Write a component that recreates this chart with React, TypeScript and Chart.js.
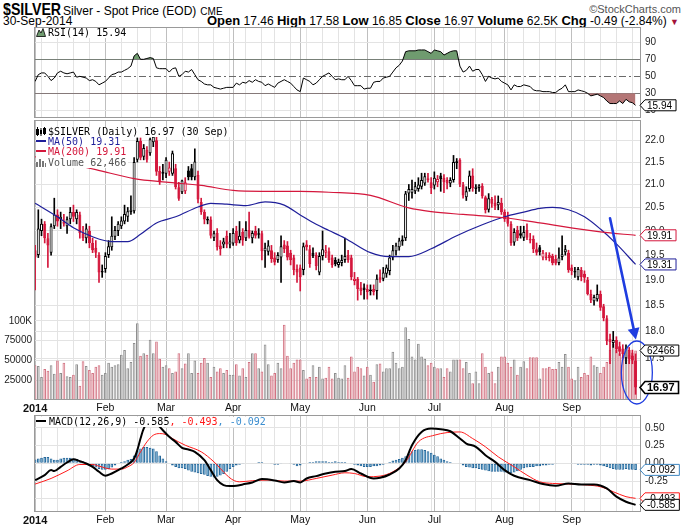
import React, { useEffect, useRef } from 'react';
import { Chart, registerables } from 'chart.js';
Chart.register(...registerables);

const SANS = '"Liberation Sans", Arial, Helvetica, sans-serif';
const NARROW = '"Liberation Sans Narrow", "Arial Narrow", "Liberation Sans", sans-serif';
const MONO = '"DejaVu Sans Mono", "Liberation Mono", monospace';

// ---------------- categories ----------------
const HOLIDAYS = ['2014-02-17', '2014-04-18', '2014-05-26', '2014-07-04', '2014-09-01'];
const MONTH_NAMES = ['Jan', 'Feb', 'Mar', 'Apr', 'May', 'Jun', 'Jul', 'Aug', 'Sep'];

// ---------------- daily OHLC (Jan 2 .. Sep 30, 2014) ----------------
const OPEN = [
  19.60,19.50,20.00,20.15,19.85,19.55,20.10,20.35,20.25,20.20,20.10,20.25,20.40,20.25,20.35,19.95,19.85,20.00,19.75,19.65,19.50,19.15,
  19.22,19.50,19.66,19.88,20.00,20.10,20.20,20.30,20.40,20.42,21.55,21.98,21.62,21.78,21.70,21.95,22.00,21.30,21.24,
  21.24,21.28,21.24,21.36,20.94,20.83,20.85,21.31,21.36,21.16,21.21,20.62,20.40,20.22,20.24,19.86,19.96,19.70,19.72,19.90,19.72,
  19.74,20.00,19.80,19.98,19.85,20.02,19.85,20.00,19.92,19.95,19.58,19.57,19.60,19.45,19.40,19.45,19.72,19.70,19.55,19.45,19.22,
  19.25,19.20,19.72,19.62,19.55,19.50,19.15,19.48,19.55,19.58,19.45,19.40,19.30,19.34,19.40,19.50,19.45,18.98,19.02,18.85,18.85,
  18.82,18.78,18.82,18.78,19.05,19.02,19.12,19.18,19.45,19.58,19.66,19.78,19.85,20.80,20.82,20.85,20.90,20.95,21.02,21.10,21.05,
  20.98,21.05,21.20,21.15,21.10,21.02,21.10,21.48,21.55,21.00,20.72,20.90,21.20,20.90,20.92,20.97,20.72,20.45,20.68,20.60,20.55,20.60,
  20.40,20.30,20.15,19.76,20.02,19.95,19.86,20.02,19.80,19.84,19.62,19.66,19.45,19.44,19.50,19.48,19.42,19.34,19.46,19.56,19.55,
  19.25,19.15,19.05,19.20,19.12,19.00,18.72,18.58,18.62,18.72,18.48,18.25,17.86,17.78,17.84,17.72,17.68,17.50,17.65,17.55,17.46,
];
const HIGH = [
  19.70,20.45,20.25,20.20,19.95,20.15,20.70,20.45,20.40,20.35,20.30,20.50,20.55,20.45,20.40,20.10,20.15,20.10,19.85,19.80,19.55,19.30,
  19.55,19.80,20.30,20.10,20.20,20.30,20.55,20.50,20.75,21.60,22.05,22.05,21.90,21.85,22.05,22.15,22.10,21.40,21.45,
  21.60,21.50,21.75,21.45,21.05,21.10,21.15,21.40,21.45,21.80,21.30,20.70,20.45,20.30,20.30,20.00,20.05,19.80,19.85,20.00,19.95,
  20.05,20.10,20.20,20.05,20.20,20.40,20.00,20.10,20.05,20.00,19.75,19.80,19.70,19.55,19.55,19.90,19.80,19.78,19.60,19.50,19.30,
  19.30,19.75,19.80,19.70,19.65,19.55,19.55,20.00,19.70,19.65,19.50,19.45,19.42,19.50,19.85,19.60,19.50,19.15,19.05,18.95,18.92,
  18.90,18.90,18.90,19.10,19.20,19.25,19.30,19.50,19.70,19.75,19.85,19.90,20.85,21.00,21.10,21.05,21.15,21.25,21.25,21.25,21.15,
  21.28,21.20,21.25,21.22,21.15,21.15,21.65,21.58,21.58,21.05,20.95,21.30,21.35,21.00,21.00,21.02,20.75,20.80,20.72,20.75,20.75,20.70,
  20.45,20.40,20.20,20.05,20.10,20.10,20.10,20.15,19.95,19.90,19.75,19.70,19.60,19.55,19.55,19.52,19.50,19.65,19.90,19.70,19.60,
  19.30,19.25,19.25,19.25,19.18,19.05,18.80,18.70,18.90,18.78,18.52,18.30,17.95,18.00,17.90,17.80,17.75,17.75,17.70,17.65,17.58,
];
const LOW = [
  18.80,19.45,19.90,19.75,19.25,19.50,20.05,20.10,20.05,20.10,19.95,20.15,20.20,20.15,19.85,19.80,19.75,19.65,19.55,19.45,18.95,19.05,
  19.15,19.45,19.60,19.82,19.90,20.05,20.15,20.20,20.35,20.38,21.50,21.55,21.55,21.50,21.65,21.85,21.20,21.00,21.10,
  21.15,21.20,21.20,20.90,20.65,20.80,20.80,21.10,21.10,21.10,20.60,20.35,20.15,20.15,19.85,19.80,19.60,19.50,19.65,19.65,19.65,
  19.70,19.70,19.75,19.70,19.80,19.85,19.75,19.85,19.85,19.40,19.25,19.50,19.35,19.30,19.35,18.95,19.55,19.40,19.30,19.10,18.95,
  18.78,19.10,19.60,19.25,19.45,19.20,19.10,19.40,19.45,19.35,19.25,19.28,19.25,19.28,19.35,19.35,19.00,18.90,18.60,18.70,18.62,
  18.62,18.70,18.70,18.62,18.95,18.98,19.05,19.10,19.40,19.50,19.60,19.70,19.80,20.65,20.70,20.80,20.85,20.90,20.98,21.05,20.80,
  20.90,20.95,20.85,20.82,20.90,20.95,21.05,21.35,20.95,20.70,20.65,20.85,20.85,20.80,20.85,20.70,20.38,20.40,20.50,20.45,20.45,20.35,
  20.20,20.10,19.70,19.70,19.80,19.85,19.80,19.82,19.75,19.55,19.50,19.50,19.40,19.40,19.38,19.30,19.30,19.30,19.40,19.50,19.15,
  19.10,19.05,19.00,18.98,18.95,18.70,18.55,18.50,18.58,18.40,18.20,17.75,17.40,17.70,17.60,17.55,17.50,17.40,17.40,17.40,16.85,
];
const CLOSE = [
  19.45,20.05,20.15,19.85,19.70,20.10,20.35,20.20,20.30,20.15,20.25,20.40,20.30,20.40,19.95,19.85,20.05,19.75,19.60,19.55,19.15,19.15,
  19.48,19.68,19.90,20.02,20.15,20.22,20.36,20.42,20.45,21.50,21.98,21.60,21.82,21.55,22.02,22.08,21.28,21.05,21.28,
  21.55,21.38,21.70,20.94,20.69,21.09,21.05,21.16,21.16,21.51,20.67,20.40,20.24,20.25,19.90,19.95,19.66,19.62,19.78,19.72,19.78,
  19.96,19.75,19.90,19.80,20.02,19.88,19.96,19.90,19.95,19.58,19.65,19.70,19.42,19.35,19.50,19.68,19.62,19.45,19.40,19.20,19.15,
  19.05,19.68,19.66,19.32,19.48,19.28,19.48,19.62,19.60,19.40,19.30,19.32,19.36,19.40,19.48,19.40,19.05,19.02,18.82,18.78,18.80,
  18.76,18.80,18.76,19.02,19.00,19.15,19.25,19.45,19.60,19.70,19.80,19.82,20.80,20.90,20.90,20.96,21.00,21.10,21.18,21.14,20.92,
  21.15,21.12,21.12,21.05,21.02,21.10,21.50,21.52,21.00,20.76,20.85,21.20,20.92,20.95,20.98,20.74,20.44,20.70,20.58,20.52,20.62,20.40,
  20.25,20.15,19.75,19.98,19.85,19.90,19.98,19.86,19.84,19.62,19.55,19.56,19.55,19.47,19.44,19.34,19.33,19.45,19.52,19.62,19.20,
  19.18,19.18,19.22,19.05,19.04,18.72,18.60,18.66,18.72,18.45,18.25,17.82,17.80,17.84,17.66,17.62,17.58,17.68,17.48,17.46,16.97,
];
// volume, thousands of contracts
const VOLUME_K = [
  44,43,29,39,37,44,33,50,34,47,30,29,32,45,18,49,43,38,34,42,44,32,
  34,47,42,44,45,57,63,40,48,72,97,56,59,57,76,59,74,52,42,
  44,40,34,36,59,40,46,59,34,50,34,47,53,47,29,42,36,40,34,38,32,
  32,45,31,40,29,48,59,59,40,36,70,45,31,34,47,40,95,56,40,47,51,
  51,38,27,29,44,29,42,27,28,42,27,34,28,27,44,28,55,36,42,40,31,
  42,32,23,45,46,36,40,40,61,47,40,42,92,77,55,51,71,55,52,44,47,
  42,40,40,29,40,36,51,51,51,40,48,34,21,36,21,59,42,34,36,21,42,55,
  55,47,42,51,32,42,49,40,54,54,54,27,40,40,42,39,39,48,42,58,42,
  27,25,42,29,34,32,55,44,42,34,42,48,63,71,63,59,55,63,57,60,62.466,
];
// moving averages, read at sample days (day index, value)
const MA50_DAY = [0,7,12,18,24,29,33,38,44,51,55,60,66,72,78,83,88,92,97,105,111,117,124,132,140,147,153,158,162,167,172,177,182,188];
const MA50 = [20.59,20.30,20.07,19.88,19.78,19.78,19.93,20.17,20.30,20.51,20.59,20.57,20.54,20.62,20.55,20.34,20.14,20.01,19.85,19.55,19.47,19.47,19.63,19.90,20.13,20.30,20.40,20.48,20.50,20.45,20.30,20.04,19.73,19.31];
const MA200_DAY = [0,19,31,41,52,62,71,83,92,105,117,124,134,147,158,177,188];
const MA200 = [21.62,21.33,21.13,21.05,20.98,20.87,20.85,20.85,20.83,20.76,20.49,20.41,20.35,20.28,20.17,19.98,19.91];
// RSI(14) daily
const RSI = [
  44,52,54,54,50,45,48,54,56,54,53,54,55,49,50,49,48,45,46,44,40,42,
  44,48,52,53,55,55,57,59,62,74,77,70,70,71,72,71,60,59,59,
  59,55,59,60,50,52,56,55,58,52,46,44,41,40,40,37,36,35,36,37,37,
  37,42,40,43,42,45,43,46,44,43,39,41,39,37,42,44,46,44,42,38,34,
  32,48,46,44,40,42,46,50,52,54,50,46,47,46,46,50,45,39,39,39,35,
  36,36,43,44,44,48,49,50,55,60,63,68,79,80,80,80,81,81,81,79,77,
  81,80,79,75,77,79,80,80,62,55,57,62,56,58,58,52,44,50,48,47,48,44,
  42,40,34,40,38,38,40,39,38,34,33,33,32,32,32,31,31,34,36,40,32,
  32,32,34,33,32,30,27,28,29,27,25,21,18,18,18,21,18,23,20,19,15.94,
];
// MACD(12,26,9) line and signal, read at sample days
const MACD_DAY = [0,3,5,6,8,10,12,14,16,18,20,22,24,27,29,31,32,33,34,36,38,40,42,44,46,48,50,53,55,57,59,61,63,65,68,71,75,78,81,83,85,88,91,94,97,99,102,106,108,111,114,116,118,121,124,127,130,133,135,138,141,144,147,150,155,159,163,167,171,175,179,182,185,188];
const MACD = [-0.236,-0.166,-0.095,-0.109,-0.049,0.012,0.059,0.031,-0.002,-0.049,-0.119,-0.175,-0.143,-0.072,-0.016,0.069,0.186,0.35,0.49,0.608,0.56,0.467,0.374,0.303,0.219,0.195,0.163,0.045,-0.095,-0.236,-0.306,-0.32,-0.316,-0.297,-0.269,-0.222,-0.241,-0.269,-0.25,-0.269,-0.213,-0.18,-0.143,-0.119,-0.109,-0.081,-0.143,-0.213,-0.203,-0.157,-0.072,0.045,0.256,0.443,0.49,0.481,0.453,0.35,0.28,0.233,0.115,0.021,-0.095,-0.175,-0.236,-0.292,-0.316,-0.283,-0.297,-0.297,-0.353,-0.47,-0.541,-0.585];
const SIGNAL_DAY = [0,5,10,14,18,20,24,27,29,31,33,35,37,39,41,43,47,52,56,60,62,64,68,73,78,83,88,93,97,100,104,108,112,116,120,125,129,133,137,141,145,150,154,158,162,168,173,177,181,185,188];
const SIGNAL = [-0.292,-0.213,-0.105,-0.016,-0.016,-0.039,-0.081,-0.081,-0.049,0.012,0.162,0.303,0.397,0.42,0.406,0.35,0.256,0.163,0.021,-0.166,-0.236,-0.26,-0.245,-0.236,-0.25,-0.25,-0.213,-0.166,-0.133,-0.143,-0.189,-0.18,-0.119,0.021,0.303,0.397,0.434,0.443,0.35,0.233,0.092,-0.049,-0.166,-0.26,-0.283,-0.292,-0.306,-0.33,-0.4,-0.47,-0.493];
// MACD histogram daily
const HIST = [
  0.056,0.07,0.08,0.09,0.09,0.07,0.05,0.05,0.07,0.08,0.08,0.08,0.07,0.06,0.04,0.03,0.01,-0.02,-0.04,-0.06,-0.08,-0.09,
  -0.09,-0.08,-0.06,-0.03,0.0,0.02,0.03,0.05,0.06,0.11,0.18,0.21,0.23,0.23,0.22,0.21,0.17,0.11,0.07,
  0.03,0.0,-0.03,-0.05,-0.07,-0.07,-0.08,-0.10,-0.12,-0.13,-0.14,-0.15,-0.16,-0.18,-0.19,-0.20,-0.19,-0.17,-0.15,-0.12,-0.08,
  -0.05,-0.03,-0.02,-0.01,0.0,0.0,0.01,0.01,0.02,0.02,0.01,0.0,-0.01,-0.02,-0.02,-0.01,0.0,0.0,-0.01,-0.02,-0.04,
  -0.03,-0.01,0.01,0.02,0.02,0.03,0.03,0.03,0.03,0.02,0.02,0.03,0.02,0.02,0.02,0.0,-0.01,-0.02,-0.03,-0.04,-0.05,
  -0.05,-0.05,-0.04,-0.04,-0.03,-0.02,0.0,0.02,0.04,0.05,0.06,0.08,0.10,0.14,0.17,0.19,0.20,0.20,0.19,0.17,0.15,
  0.12,0.10,0.07,0.05,0.03,0.02,0.01,0.0,-0.01,-0.03,-0.05,-0.06,-0.07,-0.07,-0.08,-0.09,-0.10,-0.11,-0.12,-0.12,-0.12,-0.12,
  -0.13,-0.13,-0.14,-0.13,-0.11,-0.09,-0.07,-0.06,-0.05,-0.05,-0.04,-0.04,-0.03,-0.03,-0.02,-0.02,-0.01,0.0,0.01,0.01,0.0,
  -0.01,-0.01,-0.02,-0.02,-0.02,-0.02,-0.03,-0.02,-0.02,-0.03,-0.04,-0.05,-0.07,-0.08,-0.09,-0.09,-0.09,-0.08,-0.09,-0.09,-0.092,
];
// tick labels
const PRICE_TICKS = [17.5, 18, 18.5, 19, 19.5, 20, 20.5, 21, 21.5, 22];
const VOL_TICKS = [25000, 50000, 75000, 100000];
const RSI_GRID = [10, 20, 30, 40, 50, 60, 70, 80, 90, 100];
const RSI_LABELS = [10, 30, 50, 70, 90];
const MACD_TICKS = [-0.5, -0.25, 0, 0.25, 0.5];
// hand-drawn annotation (day index, price)
const ARROW_FROM = [180.0, 20.27];
const ARROW_TO = [188.1, 17.85];
const RING_CENTER = [188.4, 17.24];

// ---------------- derived calendar ----------------
const DAYS: Date[] = (() => {
  const out: Date[] = [];
  const d = new Date(Date.UTC(2014, 0, 2));
  const end = Date.UTC(2014, 8, 30);
  while (d.getTime() <= end) {
    const wd = d.getUTCDay();
    const iso = d.toISOString().slice(0, 10);
    if (wd !== 0 && wd !== 6 && !HOLIDAYS.includes(iso)) out.push(new Date(d.getTime()));
    d.setUTCDate(d.getUTCDate() + 1);
  }
  return out;
})();
const MONTH_START = new Set<number>();
const WEEK_START = new Set<number>();
DAYS.forEach((d, i) => {
  if (i === 0 || d.getUTCMonth() !== DAYS[i - 1].getUTCMonth()) MONTH_START.add(i);
  if (i > 0 && d.getUTCDay() <= DAYS[i - 1].getUTCDay()) WEEK_START.add(i);
});
const X_TICKS = Array.from(new Set([...MONTH_START, ...WEEK_START])).sort((a, b) => a - b);
const N = CLOSE.length;
const X_MIN = -0.35;
const X_MAX = 189.7;

const RED = '#d4173c';
const NAVY = '#1f1f9a';
const GRID = '#e3e3e3';
const GRID_M = '#bfbfbf';

function zeroPad(s: any) { s.paddingTop = 0; s.paddingBottom = 0; s.paddingLeft = 0; s.paddingRight = 0; }

function xAxis(labels: boolean) {
  return {
    type: 'linear', position: 'bottom', min: X_MIN, max: X_MAX, offset: false,
    afterBuildTicks: (s: any) => { s.ticks = X_TICKS.map((v) => ({ value: v })); },
    afterFit: (s: any) => { s.height = labels ? 16 : 0; zeroPad(s); },
    ticks: {
      display: labels, autoSkip: false, maxRotation: 0, minRotation: 0, padding: 2, color: '#111',
      font: (c: any) => ({ family: SANS, size: c.tick && c.tick.value === 0 ? 11 : 10.5, weight: c.tick && c.tick.value === 0 ? 'bold' : 'normal' }),
      callback: (v: number) => (MONTH_START.has(v) ? (v === 0 ? '2014' : MONTH_NAMES[DAYS[v].getUTCMonth()]) : ''),
    },
    grid: { drawTicks: false, offset: false, lineWidth: 1, color: (c: any) => (c.tick && MONTH_START.has(c.tick.value) ? GRID_M : GRID) },
    border: { display: false },
  };
}

function rightAxis(extra: any) {
  return Object.assign({
    position: 'right',
    afterFit: (s: any) => { s.width = 44; zeroPad(s); },
    border: { display: false },
  }, extra);
}

function valueBox(ctx: any, x: number, y: number, text: string, stroke: string, bold: boolean) {
  ctx.save();
  ctx.font = `${bold ? 'bold 11px' : '10px'} ${SANS}`;
  const tw = ctx.measureText(text).width;
  const h = bold ? 12 : 11;
  const w = tw + 6;
  ctx.beginPath();
  ctx.moveTo(x, y);
  ctx.lineTo(x + 5, y - h / 2);
  ctx.lineTo(x + 5 + w, y - h / 2);
  ctx.lineTo(x + 5 + w, y + h / 2);
  ctx.lineTo(x + 5, y + h / 2);
  ctx.closePath();
  ctx.fillStyle = '#fff';
  ctx.fill();
  ctx.lineWidth = bold ? 1.6 : 1;
  ctx.strokeStyle = stroke;
  ctx.stroke();
  ctx.fillStyle = '#000';
  ctx.textBaseline = 'middle';
  ctx.textAlign = 'left';
  ctx.fillText(text, x + 7, y + 0.5);
  ctx.restore();
}

function framePlugin(boxes: any[], extra?: (chart: any) => void, before?: (chart: any) => void) {
  return {
    id: 'frame' + Math.random().toString(36).slice(2),
    beforeDatasetsDraw(chart: any) { if (before) before(chart); },
    afterDraw(chart: any) {
      const { ctx, chartArea: a } = chart;
      ctx.save();
      ctx.strokeStyle = '#9a9a9a';
      ctx.lineWidth = 1;
      ctx.strokeRect(Math.round(a.left) + 0.5, Math.round(a.top) + 0.5, Math.round(a.right - a.left) - 1, Math.round(a.bottom - a.top) - 1);
      ctx.restore();
      if (extra) extra(chart);
      boxes.forEach((b) => {
        const sc = chart.scales[b.axis];
        valueBox(ctx, a.right - 1, sc.getPixelForValue(b.value), b.text, b.color, !!b.bold);
      });
    },
  };
}

const baseOpts = {
  responsive: false, maintainAspectRatio: false, animation: false, events: [],
  plugins: { legend: { display: false }, tooltip: { enabled: false } },
};

function rsiConfig(): any {
  const pts = RSI.map((v, i) => ({ x: i, y: v }));
  return {
    type: 'line',
    data: {
      datasets: [
        { data: pts, borderColor: '#000', borderWidth: 1, pointRadius: 0, fill: false, tension: 0, order: 0 },
        { data: pts, borderWidth: 0, borderColor: 'rgba(0,0,0,0)', pointRadius: 0, order: 1, fill: { target: { value: 70 }, above: '#6f9b6f', below: 'rgba(0,0,0,0)' } },
        { data: pts, borderWidth: 0, borderColor: 'rgba(0,0,0,0)', pointRadius: 0, order: 2, fill: { target: { value: 30 }, above: 'rgba(0,0,0,0)', below: '#b47676' } },
      ],
    },
    options: {
      ...baseOpts,
      layout: { padding: { left: 34, top: 5, right: 0, bottom: 2 }, autoPadding: false },
      scales: {
        x: xAxis(false),
        y: rightAxis({
          type: 'linear', min: 1, max: 108,
          afterBuildTicks: (s: any) => { s.ticks = RSI_GRID.map((v) => ({ value: v })); },
          ticks: { padding: 4, color: '#222', font: { family: SANS, size: 10 }, callback: (v: number) => (RSI_LABELS.includes(v) ? String(v) : '') },
          grid: { drawTicks: false, color: (c: any) => (c.tick && (c.tick.value === 30 || c.tick.value === 70) ? '#7a7a7a' : c.tick && c.tick.value === 50 ? 'rgba(0,0,0,0)' : GRID) },
        }),
      },
    },
    plugins: [framePlugin(
      [{ axis: 'y', value: RSI[N - 1], text: RSI[N - 1].toFixed(2), color: '#000' }],
      undefined,
      (chart: any) => {
        const { ctx, chartArea: a } = chart;
        const y = Math.round(chart.scales.y.getPixelForValue(50)) + 0.5;
        ctx.save();
        ctx.strokeStyle = '#6a6a6a';
        ctx.lineWidth = 1;
        ctx.setLineDash([7, 3, 2, 3]);
        ctx.beginPath(); ctx.moveTo(a.left, y); ctx.lineTo(a.right, y); ctx.stroke();
        ctx.restore();
      },
    )],
  };
}

function priceConfig(): any {
  const down = CLOSE.map((c, i) => (i > 0 ? c < CLOSE[i - 1] : c < OPEN[i]));
  const col = down.map((d) => (d ? RED : '#000'));
  const fillCol = CLOSE.map((c, i) => (c >= OPEN[i] ? '#ffffff' : col[i]));
  return {
    type: 'bar',
    data: {
      datasets: [
        { type: 'line', data: MA200_DAY.map((x, k) => ({ x, y: MA200[k] })), yAxisID: 'y', borderColor: RED, borderWidth: 1.2, pointRadius: 0, cubicInterpolationMode: 'monotone', order: 0 },
        { type: 'line', data: MA50_DAY.map((x, k) => ({ x, y: MA50[k] })), yAxisID: 'y', borderColor: NAVY, borderWidth: 1.2, pointRadius: 0, cubicInterpolationMode: 'monotone', order: 0 },
        { type: 'bar', data: CLOSE.map((c, i) => ({ x: i, y: [OPEN[i], c] })), yAxisID: 'y', grouped: false, barPercentage: 0.95, categoryPercentage: 1, minBarLength: 1.5,
          backgroundColor: fillCol, borderColor: col, borderWidth: 1, borderSkipped: false, order: 1 },
        { type: 'bar', data: CLOSE.map((c, i) => ({ x: i, y: [LOW[i], HIGH[i]] })), yAxisID: 'y', grouped: false, maxBarThickness: 1, barPercentage: 1, categoryPercentage: 1,
          backgroundColor: col, borderWidth: 0, order: 2 },
        { type: 'bar', data: VOLUME_K.map((v, i) => ({ x: i, y: v * 1000 })), yAxisID: 'yv', grouped: false, barPercentage: 0.84, categoryPercentage: 1,
          backgroundColor: down.map((d) => (d ? '#ebb5bb' : '#c2c2c2')), borderColor: down.map((d) => (d ? '#d27282' : '#8e8e8e')), borderWidth: 1, borderSkipped: false, order: 5 },
      ],
    },
    options: {
      ...baseOpts,
      layout: { padding: { left: 0, top: 2, right: 0, bottom: 0 }, autoPadding: false },
      scales: {
        x: Object.assign(xAxis(true), { afterFit: (s: any) => { s.height = 18; zeroPad(s); } }),
        y: rightAxis({
          type: 'logarithmic', min: 16.75, max: 22.47,
          afterBuildTicks: (s: any) => { s.ticks = PRICE_TICKS.map((v) => ({ value: v })); },
          ticks: { padding: 4, color: '#222', font: { family: SANS, size: 10 }, autoSkip: false, callback: (v: number) => Number(v).toFixed(1) },
          grid: { drawTicks: false, color: GRID },
        }),
        yv: {
          type: 'linear', position: 'left', min: 0, max: 353500,
          afterBuildTicks: (s: any) => { s.ticks = VOL_TICKS.map((v) => ({ value: v })); },
          afterFit: (s: any) => { s.width = 34; zeroPad(s); },
          ticks: { padding: 2, color: '#222', font: { family: SANS, size: 10 }, callback: (v: number) => (v >= 100000 ? v / 1000 + 'K' : String(v)) },
          grid: { drawTicks: false, color: GRID },
          border: { display: false },
        },
      },
    },
    plugins: [framePlugin(
      [
        { axis: 'y', value: MA200[MA200.length - 1], text: MA200[MA200.length - 1].toFixed(2), color: RED },
        { axis: 'y', value: MA50[MA50.length - 1], text: MA50[MA50.length - 1].toFixed(2), color: NAVY },
        { axis: 'yv', value: VOLUME_K[N - 1] * 1000, text: String(Math.round(VOLUME_K[N - 1] * 1000)), color: '#000' },
        { axis: 'y', value: CLOSE[N - 1], text: CLOSE[N - 1].toFixed(2), color: '#000', bold: true },
      ],
      (chart: any) => {
        const { ctx } = chart;
        const sx = chart.scales.x, sy = chart.scales.y;
        const x0 = sx.getPixelForValue(ARROW_FROM[0]), y0 = sy.getPixelForValue(ARROW_FROM[1]);
        const x1 = sx.getPixelForValue(ARROW_TO[0]), y1 = sy.getPixelForValue(ARROW_TO[1]);
        const dx = x1 - x0, dy = y1 - y0, len = Math.hypot(dx, dy);
        const ux = dx / len, uy = dy / len;
        const hl = 11, hw = 6;
        const bx = x1 - ux * hl, by = y1 - uy * hl;
        ctx.save();
        ctx.strokeStyle = '#1f3de0';
        ctx.fillStyle = '#1f3de0';
        ctx.lineWidth = 2.6;
        ctx.lineCap = 'round';
        ctx.beginPath(); ctx.moveTo(x0, y0); ctx.lineTo(bx, by); ctx.stroke();
        ctx.beginPath();
        ctx.moveTo(x1, y1);
        ctx.lineTo(bx - uy * hw, by + ux * hw);
        ctx.lineTo(bx + uy * hw, by - ux * hw);
        ctx.closePath(); ctx.fill();
        const cx = sx.getPixelForValue(RING_CENTER[0]), cy = sy.getPixelForValue(RING_CENTER[1]);
        ctx.lineWidth = 1.3;
        ctx.beginPath(); ctx.ellipse(cx, cy, 15.5, 31.5, 0, 0, Math.PI * 2); ctx.stroke();
        ctx.restore();
      },
    )],
  };
}

function macdConfig(): any {
  return {
    type: 'bar',
    data: {
      datasets: [
        { type: 'line', data: MACD_DAY.map((x, k) => ({ x, y: MACD[k] })), borderColor: '#000', borderWidth: 2, pointRadius: 0, cubicInterpolationMode: 'monotone', order: 0 },
        { type: 'line', data: SIGNAL_DAY.map((x, k) => ({ x, y: SIGNAL[k] })), borderColor: '#ff1a1a', borderWidth: 1, pointRadius: 0, cubicInterpolationMode: 'monotone', order: 1 },
        { type: 'bar', data: HIST.map((v, i) => ({ x: i, y: v })), grouped: false, barPercentage: 0.84, categoryPercentage: 1,
          backgroundColor: '#4e97c6', borderColor: '#27689a', borderWidth: 1, borderSkipped: false, order: 2 },
      ],
    },
    options: {
      ...baseOpts,
      layout: { padding: { left: 34, top: 3, right: 0, bottom: 0 }, autoPadding: false },
      scales: {
        x: xAxis(true),
        y: rightAxis({
          type: 'linear', min: -0.686, max: 0.682,
          afterBuildTicks: (s: any) => { s.ticks = MACD_TICKS.map((v) => ({ value: v })); },
          ticks: { padding: 4, color: '#222', font: { family: SANS, size: 10 }, callback: (v: number) => Number(v).toFixed(2) },
          grid: { drawTicks: false, color: GRID },
        }),
      },
    },
    plugins: [framePlugin([
      { axis: 'y', value: HIST[N - 1], text: HIST[N - 1].toFixed(3), color: '#3d86c0' },
      { axis: 'y', value: SIGNAL[SIGNAL.length - 1], text: SIGNAL[SIGNAL.length - 1].toFixed(3), color: '#ff1a1a' },
      { axis: 'y', value: MACD[MACD.length - 1], text: MACD[MACD.length - 1].toFixed(3), color: '#000' },
    ])],
  };
}

const legendRow: React.CSSProperties = { background: '#fff', display: 'table', paddingRight: 2, whiteSpace: 'pre', height: 10.2, lineHeight: '10.2px' };

export default function App() {
  const rsiRef = useRef<HTMLCanvasElement>(null);
  const priceRef = useRef<HTMLCanvasElement>(null);
  const macdRef = useRef<HTMLCanvasElement>(null);
  useEffect(() => {
    const charts = [
      new Chart(rsiRef.current as HTMLCanvasElement, rsiConfig()),
      new Chart(priceRef.current as HTMLCanvasElement, priceConfig()),
      new Chart(macdRef.current as HTMLCanvasElement, macdConfig()),
    ];
    return () => charts.forEach((c) => c.destroy());
  }, []);
  const last = N - 1;
  return (
    <div style={{ position: 'absolute', left: 0, top: 0, width: 685, height: 528, background: '#fff', overflow: 'hidden', color: '#000' }}>
      {/* header */}
      <div style={{ position: 'absolute', left: 3, top: 0, whiteSpace: 'nowrap', fontFamily: NARROW, lineHeight: '18px' }}>
        <span style={{ display: 'inline-block', width: 57, fontWeight: 'bold', fontSize: 16.5, transform: 'scaleX(0.86)', transformOrigin: '0 50%' }}>$SILVER</span>
        <span style={{ fontSize: 12, marginLeft: 3 }}>Silver - Spot Price (EOD)</span>
        <span style={{ fontSize: 10, marginLeft: 4 }}>CME</span>
      </div>
      <div style={{ position: 'absolute', right: 4, top: 3, fontFamily: SANS, fontSize: 11, color: '#555', lineHeight: '13px' }}>©StockCharts.com</div>
      <div style={{ position: 'absolute', left: 3, top: 14, fontFamily: NARROW, fontSize: 12, lineHeight: '14px' }}>30-Sep-2014</div>
      <div style={{ position: 'absolute', right: 6, top: 14, fontFamily: NARROW, fontSize: 12, lineHeight: '14px', whiteSpace: 'nowrap' }}>
        <b style={{ fontSize: 13 }}>Open</b> {OPEN[last].toFixed(2)} <b style={{ fontSize: 13 }}>High</b> {HIGH[last].toFixed(2)}{' '}
        <b style={{ fontSize: 13 }}>Low</b> {LOW[last].toFixed(2)} <b style={{ fontSize: 13 }}>Close</b> {CLOSE[last].toFixed(2)}{' '}
        <b style={{ fontSize: 13 }}>Volume</b> 62.5K <b style={{ fontSize: 13 }}>Chg</b> -0.49 (-2.84%) <span style={{ color: '#a3123a', fontSize: 9 }}>▼</span>
      </div>

      <canvas ref={rsiRef} width={685} height={98} style={{ position: 'absolute', left: 0, top: 22 }} />
      <canvas ref={priceRef} width={685} height={300} style={{ position: 'absolute', left: 0, top: 118 }} />
      <canvas ref={macdRef} width={685} height={116} style={{ position: 'absolute', left: 0, top: 412 }} />

      {/* RSI legend */}
      <div style={{ position: 'absolute', left: 36, top: 28, fontFamily: MONO, fontSize: 10, ...legendRow }}>
        <svg width="10" height="9" style={{ verticalAlign: '-1px', marginRight: 2 }}>
          <polygon points="0.5,8.5 3,2 5,5 7,0.5 9.5,8.5" fill="#6f9b6f" stroke="#000" strokeWidth="0.8" />
        </svg>
        {`RSI(14) ${RSI[last].toFixed(2)}`}
      </div>

      {/* price legend */}
      <div style={{ position: 'absolute', left: 36, top: 127, fontFamily: MONO, fontSize: 10 }}>
        <div style={legendRow}>
          <svg width="10" height="9" style={{ verticalAlign: '-1px', marginRight: 2 }}>
            <rect x="0.5" y="2.5" width="2" height="5" fill="#fff" stroke="#000" strokeWidth="1" />
            <line x1="1.5" y1="0" x2="1.5" y2="9" stroke="#000" />
            <rect x="4" y="3" width="2" height="4" fill="#000" />
            <line x1="5" y1="1" x2="5" y2="9" stroke="#000" />
            <rect x="7.5" y="1.5" width="2" height="5" fill="#fff" stroke="#000" strokeWidth="1" />
            <line x1="8.5" y1="0" x2="8.5" y2="8" stroke="#000" />
          </svg>
          {`$SILVER (Daily) ${CLOSE[last].toFixed(2)} (30 Sep)`}
        </div>
        <div style={{ ...legendRow, color: NAVY }}>
          <span style={{ display: 'inline-block', width: 10, height: 2.5, background: NAVY, verticalAlign: '3px', marginRight: 2 }} />
          {`MA(50) ${MA50[MA50.length - 1].toFixed(2)}`}
        </div>
        <div style={{ ...legendRow, color: RED }}>
          <span style={{ display: 'inline-block', width: 10, height: 2.5, background: RED, verticalAlign: '3px', marginRight: 2 }} />
          {`MA(200) ${MA200[MA200.length - 1].toFixed(2)}`}
        </div>
        <div style={{ ...legendRow, color: '#555' }}>
          <svg width="10" height="9" style={{ verticalAlign: '-1px', marginRight: 2 }}>
            <rect x="0" y="4" width="2" height="5" fill="#777" />
            <rect x="3" y="1" width="2" height="8" fill="#777" />
            <rect x="6" y="3" width="2" height="6" fill="#777" />
            <rect x="9" y="5" width="1" height="4" fill="#777" />
          </svg>
          {`Volume ${Math.round(VOLUME_K[last] * 1000).toLocaleString('en-US')}`}
        </div>
      </div>

      {/* MACD legend */}
      <div style={{ position: 'absolute', left: 36, top: 417, fontFamily: MONO, fontSize: 10, ...legendRow }}>
        <span style={{ display: 'inline-block', width: 10, height: 2.5, background: '#000', verticalAlign: '3px', marginRight: 3 }} />
        {`MACD(12,26,9) ${MACD[MACD.length - 1].toFixed(3)}`}
        <span style={{ color: '#ff1a1a' }}>{`, ${SIGNAL[SIGNAL.length - 1].toFixed(3)}`}</span>
        <span style={{ color: '#3d8fd0' }}>{`, ${HIST[last].toFixed(3)}`}</span>
      </div>
    </div>
  );
}
